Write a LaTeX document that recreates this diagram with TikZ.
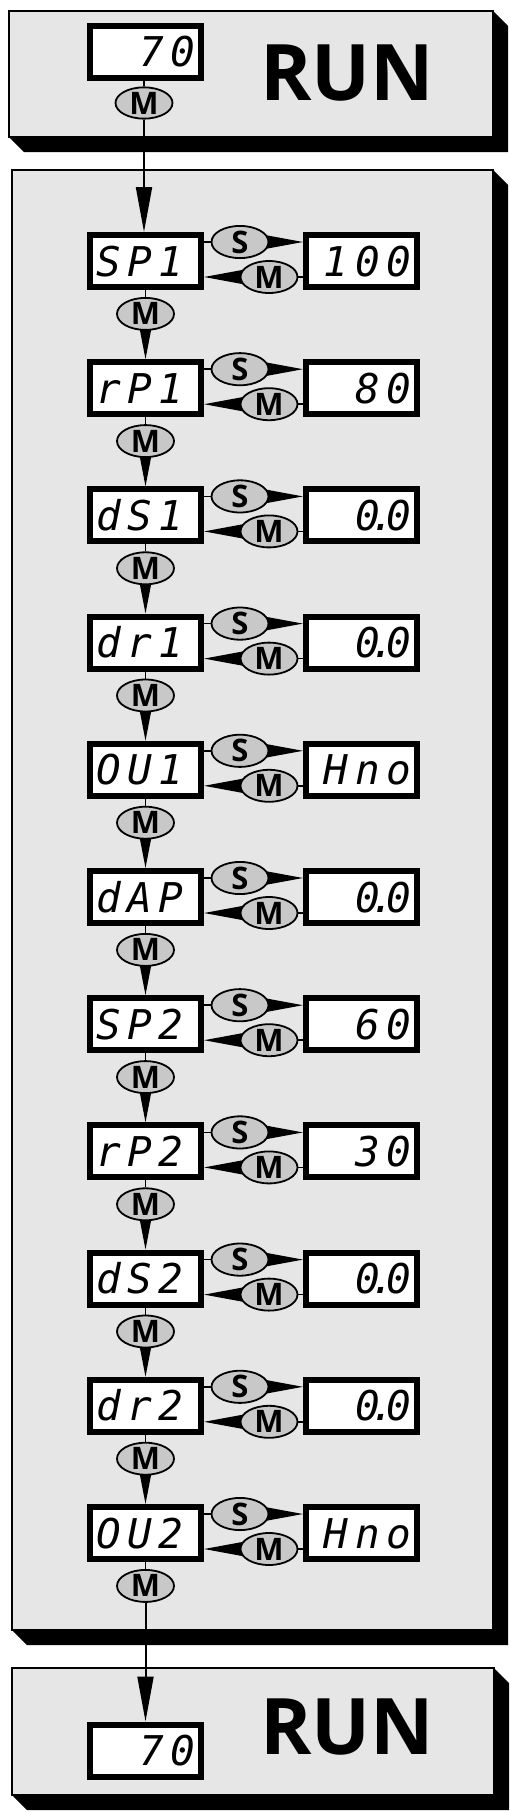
\documentclass[tikz,border=0pt]{standalone}
\usepackage{fontspec}
\setsansfont{Open Sans}
\newfontfamily\segfont[LetterSpace=16]{DejaVu Sans Mono}
\usetikzlibrary{positioning,shapes.geometric,arrows.meta,backgrounds,calc}
\definecolor{panel}{RGB}{230,230,230}
\definecolor{keygray}{RGB}{200,200,200}
\newcommand\dd{0\kern.08em\makebox[0pt]{.}\kern.08em 0}
\newcommand\drawpanel[4]{%
  \fill (#3,#2) -- ++(15,15) -- (#3+15,#4+15) -- (#1+15,#4+15) -- (#1,#4) -- cycle;
  \draw[line width=2pt, fill=panel] (#1,#2) rectangle (#3,#4);}

\begin{document}
\begin{tikzpicture}[x=1pt,y=-1pt,
    lcd/.style={draw, line width=6pt, fill=white, minimum width=111pt, minimum height=52pt,
      inner sep=0pt, text width=99pt, text height=30pt, text depth=0pt,
      font=\segfont\itshape\fontsize{41}{41}\selectfont},
    key/.style={ellipse, draw, line width=1.8pt, fill=keygray, minimum width=57pt,
      minimum height=32pt, inner sep=0pt, font=\sffamily\bfseries\fontsize{31}{31}\selectfont},
    run/.style={inner sep=0pt, font=\sffamily\bfseries\fontsize{78}{78}\selectfont},
    link/.style={line width=1.5pt},
    wedge/.style={-{Triangle[length=50pt,width=18pt]}, line width=1.5pt},
    dropwedge/.style={-{Triangle[length=40pt,width=15pt]}, line width=1.5pt},
    flow/.style={-{Triangle[length=45pt,width=16pt]}, line width=2pt}]
  \useasboundingbox (0,0) rectangle (509,1812);

  % Panels
  \begin{scope}[on background layer]
    \drawpanel{9}{11}{493}{137}
    \drawpanel{12}{170}{493}{1630}
    \drawpanel{12}{1668}{494}{1795}
  \end{scope}

  % Define nodes
  \node[lcd, align=right] (D0) at (145.5,51.5) {70};
  \node[key, minimum height=27pt] (M0) at (144,103) {M};
  \node[run] (R0) at (347,73.5) {RUN};
  \foreach \lab/\val [count=\i] in {SP1/100, rP1/80, dS1/\dd, dr1/\dd, OU1/Hno, dAP/\dd,
      SP2/60, rP2/30, dS2/\dd, dr2/\dd, OU2/Hno} {
    \node[lcd, align=left] (P\i) at (145.5,{261+(\i-1)*127.2}) {\lab};
    \node[lcd, align=right, right=99pt of P\i] (V\i) {\val};
    \node[key] (S\i) at ($(P\i.north east)+(36,10)$) {S};
    \node[key] (M\i) at ($(P\i.north east)+(65,45)$) {M};
    \node[key, below=7pt of P\i] (N\i) {M};
  }
  \node[lcd, align=right] (D1) at (145.5,1750.5) {70};
  \node[run] (R1) at (347,1727.5) {RUN};

  % Connect the nodes
  \begin{scope}[on background layer]
    \draw[link] (D0.south -| M0) -- (M0);
    \draw[flow] (M0) -- (M0 |- P1.north);
    \foreach \i in {1,...,11} {
      \draw[link] (P\i.east |- S\i) -- (S\i);
      \draw[wedge] (S\i.center) -- (V\i.west |- S\i);
      \draw[link] (V\i.west |- M\i) -- (M\i);
      \draw[wedge] (M\i.center) -- (P\i.east |- M\i);
      \draw[link] (P\i) -- (N\i);
    }
    \foreach \i [evaluate=\i as \j using int(\i+1)] in {1,...,10}
      \draw[dropwedge] (N\i.center) -- (N\i |- P\j.north);
    \draw[flow] (N11) -- (N11 |- D1.north);
  \end{scope}
\end{tikzpicture}
\end{document}
